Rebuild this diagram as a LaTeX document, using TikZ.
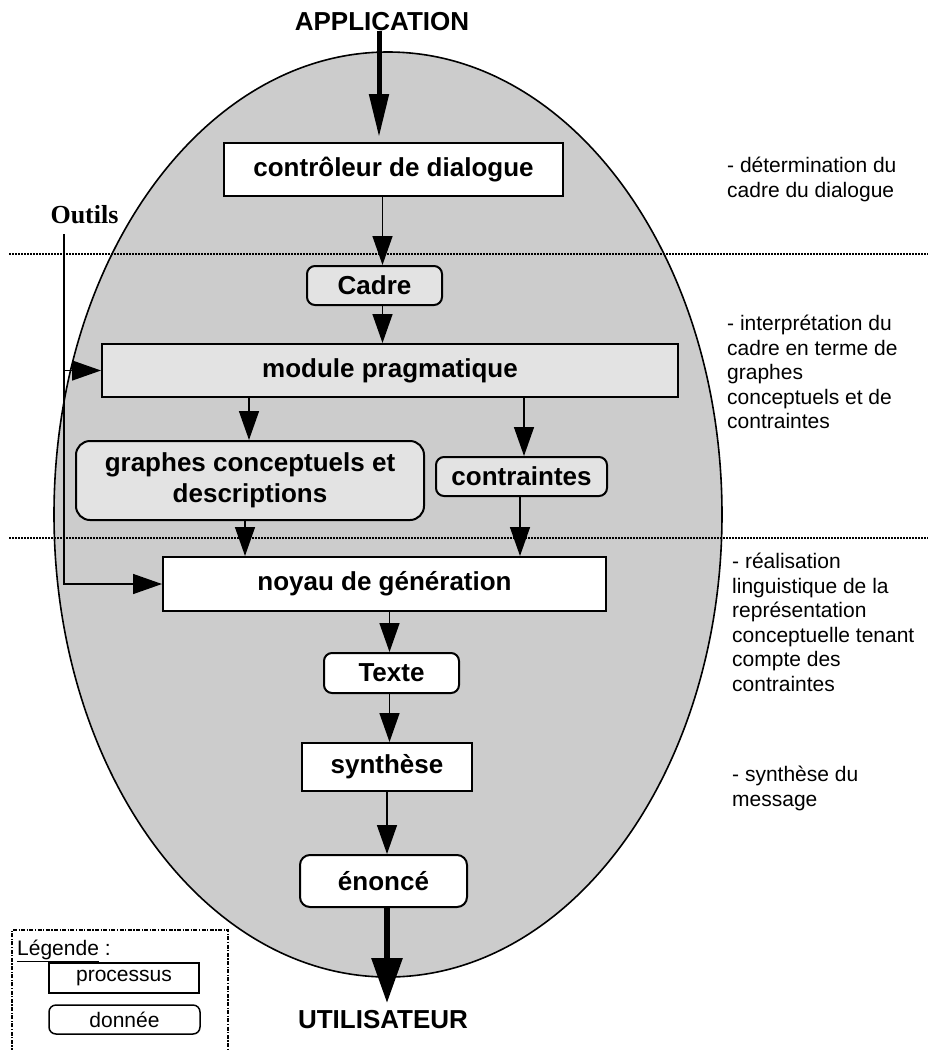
\documentclass[tikz,border=0pt]{standalone}
\usepackage{fontspec}
\setmainfont{Liberation Sans}
\newfontfamily\timesfont{Liberation Serif}
\usetikzlibrary{arrows.meta}
\definecolor{ellgray}{HTML}{CCCCCC}
\definecolor{boxgray}{HTML}{E3E3E3}
\begin{document}
\begin{tikzpicture}[x=1pt,y=-1pt,
  bfont/.style={font=\fontsize{26}{31}\selectfont\bfseries},
  rfont/.style={font=\fontsize{21}{24.5}\selectfont},
  proc/.style={draw, line width=2pt, fill=white, inner sep=0pt, bfont},
  procgray/.style={proc, fill=boxgray},
  datum/.style={proc, rounded corners=8pt},
  datumgray/.style={datum, fill=boxgray},
  arr/.style={line width=1.5pt, -{Triangle[length=29pt,width=20pt]}},
  bigarrtop/.style={line width=5pt, -{Triangle[length=43pt,width=19pt]}},
  bigarrbot/.style={line width=6pt, -{Triangle[length=45pt,width=30pt]}},
  sep/.style={line width=1.2pt, dash pattern=on 1.5pt off 1.5pt},
  note/.style={rfont, align=left, anchor=north west, inner sep=0pt},
  legbox/.style={draw, line width=1.5pt, fill=white, inner sep=0pt, rfont}
]
\useasboundingbox (0,0) rectangle (928,1050);

% ellipse
\draw[fill=ellgray, line width=1.6pt] (388,514.5) ellipse [x radius=334pt, y radius=462.5pt];

% separators
\coordinate (s1a) at (9,254);
\coordinate (s1b) at (928,254);
\coordinate (s2a) at (9,538);
\coordinate (s2b) at (928,538);
\draw[sep] (s1a) -- (s1b);
\draw[sep] (s2a) -- (s2b);

% boxes
\node[proc, minimum width=339pt, minimum height=53pt] (ctrl) at (393.5,169.5) {contrôleur de dialogue};
\node[datumgray, minimum width=135pt, minimum height=39pt] (cadre) at (374.5,285.5) {Cadre};
\node[procgray, minimum width=576pt, minimum height=53pt] (module) at (390,370.5) {module pragmatique};
\node[datumgray, rounded corners=14pt, minimum width=348pt, minimum height=79pt, align=center] (graphes) at (250,480.5) {graphes conceptuels et\\descriptions};
\node[datumgray, minimum width=171pt, minimum height=39pt] (contr) at (521.5,476.5) {contraintes};
\node[proc, minimum width=443pt, minimum height=54pt] (noyau) at (384.5,584) {noyau de génération};
\node[datum, minimum width=135pt, minimum height=40pt] (texte) at (391.5,673) {Texte};
\node[proc, minimum width=170pt, minimum height=48pt] (synth) at (387,767) {synthèse};
\node[datum, rounded corners=10pt, minimum width=167pt, minimum height=52pt] (enonce) at (383.5,881) {énoncé};

% end labels
\node[bfont, inner sep=0pt] (appl) at (382,22) {APPLICATION};
\node[bfont, inner sep=0pt] (util) at (383,1020) {UTILISATEUR};
\node[font=\timesfont\fontsize{26}{30}\selectfont\bfseries, inner sep=0pt] (outils) at (84.5,215) {Outils};

% arrow x positions
\coordinate (xApp) at (379,0);
\coordinate (xA) at (382.5,0);
\coordinate (xB) at (249,0);
\coordinate (xC) at (245,0);
\coordinate (xD) at (524,0);
\coordinate (xE) at (520,0);
\coordinate (xF) at (389.5,0);
\coordinate (xG) at (387,0);
\coordinate (o1) at (64,234);
\coordinate (utip) at (387,1003);

% arrows
\draw[bigarrtop, shorten >=5pt] (appl.south -| xApp) -- (ctrl.north -| xApp);
\draw[arr] (ctrl.south -| xA) -- (cadre.north -| xA);
\draw[arr] (cadre.south -| xA) -- (module.north -| xA);
\draw[arr] (module.south -| xB) -- (graphes.north -| xB);
\draw[arr] (module.south -| xD) -- (contr.north -| xD);
\draw[arr] (graphes.south -| xC) -- (noyau.north -| xC);
\draw[arr] (contr.south -| xE) -- (noyau.north -| xE);
\draw[arr] (noyau.south -| xF) -- (texte.north -| xF);
\draw[arr] (texte.south -| xF) -- (synth.north -| xF);
\draw[arr] (synth.south -| xG) -- (enonce.north -| xG);
\draw[bigarrbot] (enonce.south -| xG) -- (utip);
\draw[arr] (o1) |- (module.west);
\draw[arr] (o1) |- (noyau.west);

% side notes
\node[note] (n1) at (727,157) {- détermination du\\cadre du dialogue};
\node[note] (n2) at (727,315) {- interprétation du\\cadre en terme de\\graphes\\conceptuels et de\\contraintes};
\node[note] (n3) at (732,553) {- réalisation\\linguistique de la\\représentation\\conceptuelle tenant\\compte des\\contraintes};
\node[note] (n4) at (732,766) {- synthèse du\\message};

% legend
\coordinate (lg1) at (12,1052);
\coordinate (lg2) at (228,930);
\coordinate (lg3) at (228,1052);
\draw[line width=1.4pt, dash pattern=on 4pt off 1.5pt on 1.2pt off 1.5pt, fill=white] (lg1) |- (lg2) -- (lg3);
\node[rfont, anchor=base west, inner sep=0pt] (legtitle) at (17,955) {\underline{Légende} :};
\node[legbox, minimum width=150pt, minimum height=30pt] (lproc) at (124,978) {processus};
\node[legbox, rounded corners=7pt, minimum width=151pt, minimum height=29pt] (ldata) at (124.5,1019.5) {donnée};
\end{tikzpicture}
\end{document}
